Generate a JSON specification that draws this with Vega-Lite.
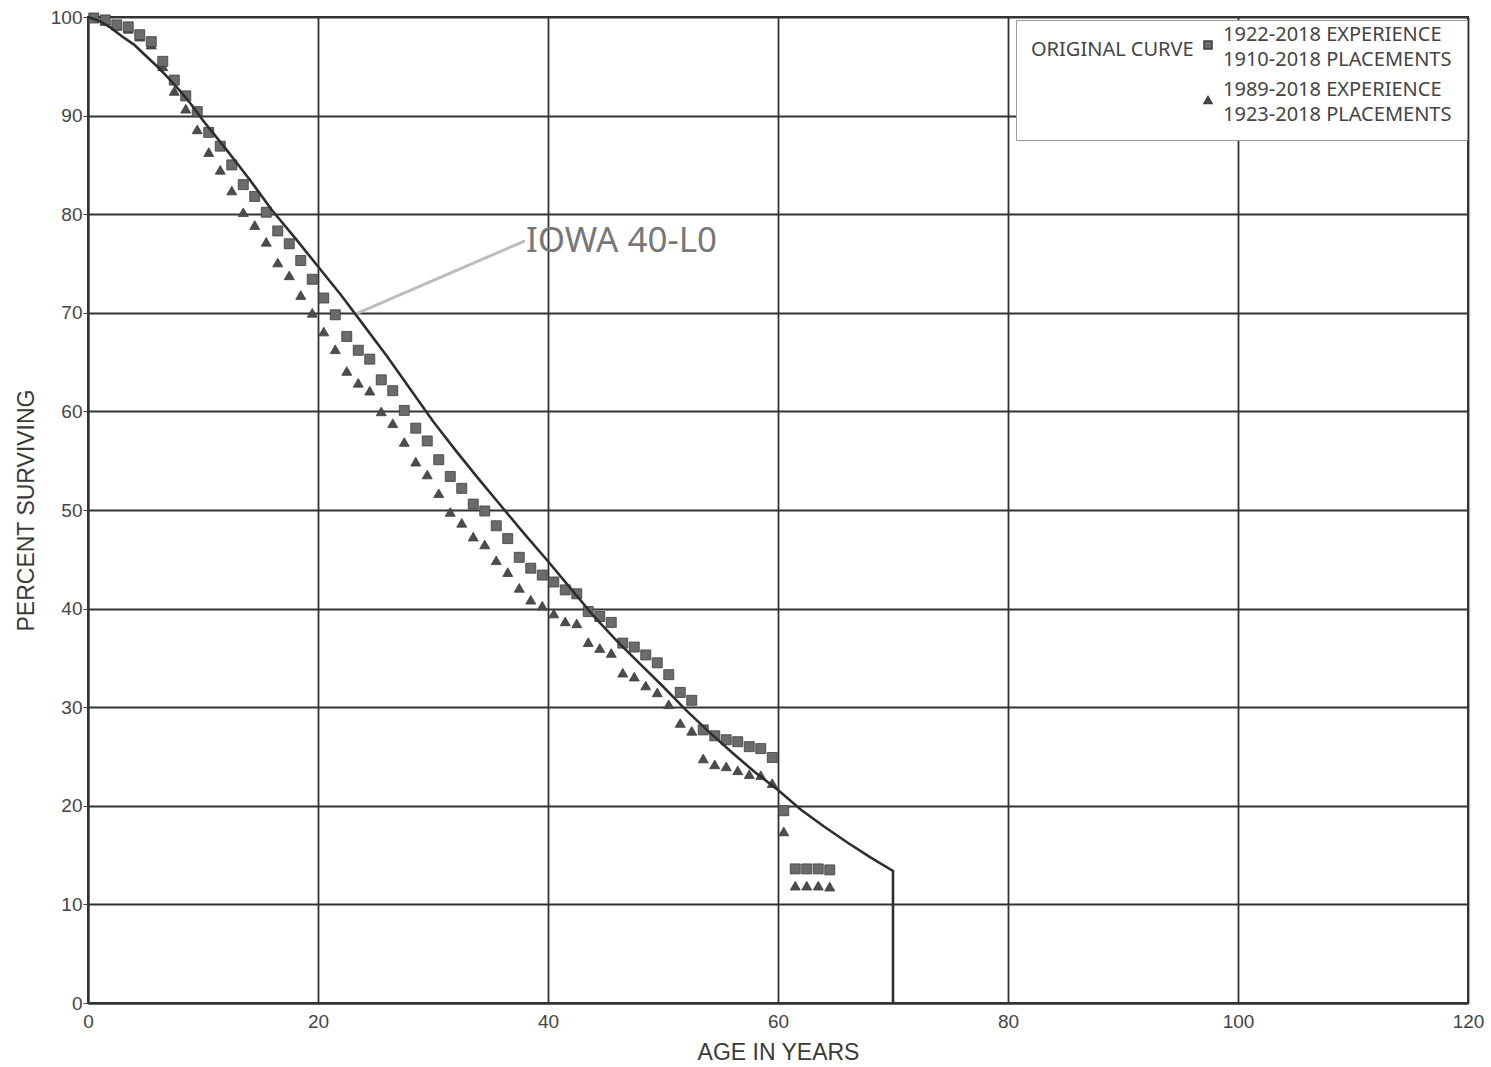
{
  "$schema": "https://vega.github.io/schema/vega-lite/v6.json",
  "width": 1380,
  "height": 986,
  "autosize": "none",
  "padding": {"left": 88, "top": 17, "right": 23, "bottom": 64},
  "background": "white",
  "view": {"stroke": "#333333", "strokeWidth": 2},
  "config": {
    "font": "Liberation Sans",
    "style": {"guide-label": {"lineHeight": 25}},
    "axis": {
      "grid": true,
      "gridColor": "#333333",
      "gridWidth": 1.8,
      "domainColor": "#333333",
      "domainWidth": 2,
      "labelFont": "Liberation Sans",
      "labelFontSize": 19,
      "labelColor": "#444444",
      "labelFlush": false,
      "titleFont": "Liberation Sans",
      "titleFontSize": 23,
      "titleFontWeight": "normal",
      "titleColor": "#3a3a3a"
    },
    "legend": {
      "orient": "none",
      "legendX": 928,
      "legendY": 3,
      "titleOrient": "left",
      "titleAnchor": "start",
      "titleBaseline": "line-top",
      "titleLineHeight": 30,
      "titleFont": "Noto Sans",
      "titleFontSize": 20,
      "titleFontWeight": "normal",
      "titleColor": "#444444",
      "titlePadding": 4,
      "labelFont": "Noto Sans",
      "labelFontSize": 20,
      "labelColor": "#444444",
      "labelBaseline": "bottom",
      "labelLimit": 0,
      "labelOffset": 5,
      "symbolSize": 64,
      "rowPadding": 10,
      "padding": 15,
      "strokeColor": "#9a9a9a",
      "fillColor": "white"
    }
  },
  "datasets": {
    "curve": [
      {"age": 0, "pct": 100}, {"age": 1, "pct": 99.6}, {"age": 2, "pct": 98.9}, {"age": 3, "pct": 98.0},
      {"age": 4, "pct": 97.2}, {"age": 5, "pct": 96.1}, {"age": 6, "pct": 95.0}, {"age": 7, "pct": 93.8},
      {"age": 8, "pct": 92.5}, {"age": 9, "pct": 91.1}, {"age": 10, "pct": 89.5}, {"age": 12, "pct": 86.6},
      {"age": 14, "pct": 83.6}, {"age": 16, "pct": 80.4}, {"age": 18, "pct": 77.6}, {"age": 20, "pct": 74.7},
      {"age": 22, "pct": 71.8}, {"age": 24, "pct": 68.7}, {"age": 26, "pct": 65.6}, {"age": 28, "pct": 62.3},
      {"age": 30, "pct": 59.0}, {"age": 32, "pct": 56.0}, {"age": 34, "pct": 53.1}, {"age": 36, "pct": 50.3},
      {"age": 38, "pct": 47.5}, {"age": 40, "pct": 44.8}, {"age": 42, "pct": 42.0}, {"age": 44, "pct": 39.2},
      {"age": 46, "pct": 36.7}, {"age": 48, "pct": 34.4}, {"age": 50, "pct": 32.1}, {"age": 52, "pct": 29.7},
      {"age": 54, "pct": 27.5}, {"age": 56, "pct": 25.4}, {"age": 58, "pct": 23.4}, {"age": 60, "pct": 21.6},
      {"age": 62, "pct": 19.6}, {"age": 64, "pct": 17.9}, {"age": 66, "pct": 16.3}, {"age": 68, "pct": 14.8},
      {"age": 70, "pct": 13.4}, {"age": 70, "pct": 0}
    ],
    "observed": [
      {"series": "1989-2018 EXPERIENCE 1923-2018 PLACEMENTS", "age": 0.5, "pct": 99.9},
      {"series": "1989-2018 EXPERIENCE 1923-2018 PLACEMENTS", "age": 1.5, "pct": 99.6},
      {"series": "1989-2018 EXPERIENCE 1923-2018 PLACEMENTS", "age": 2.5, "pct": 99.1},
      {"series": "1989-2018 EXPERIENCE 1923-2018 PLACEMENTS", "age": 3.5, "pct": 98.8},
      {"series": "1989-2018 EXPERIENCE 1923-2018 PLACEMENTS", "age": 4.5, "pct": 98.0},
      {"series": "1989-2018 EXPERIENCE 1923-2018 PLACEMENTS", "age": 5.5, "pct": 97.2},
      {"series": "1989-2018 EXPERIENCE 1923-2018 PLACEMENTS", "age": 6.5, "pct": 95.0},
      {"series": "1989-2018 EXPERIENCE 1923-2018 PLACEMENTS", "age": 7.5, "pct": 92.5},
      {"series": "1989-2018 EXPERIENCE 1923-2018 PLACEMENTS", "age": 8.5, "pct": 90.7},
      {"series": "1989-2018 EXPERIENCE 1923-2018 PLACEMENTS", "age": 9.5, "pct": 88.6},
      {"series": "1989-2018 EXPERIENCE 1923-2018 PLACEMENTS", "age": 10.5, "pct": 86.3},
      {"series": "1989-2018 EXPERIENCE 1923-2018 PLACEMENTS", "age": 11.5, "pct": 84.5},
      {"series": "1989-2018 EXPERIENCE 1923-2018 PLACEMENTS", "age": 12.5, "pct": 82.4},
      {"series": "1989-2018 EXPERIENCE 1923-2018 PLACEMENTS", "age": 13.5, "pct": 80.2},
      {"series": "1989-2018 EXPERIENCE 1923-2018 PLACEMENTS", "age": 14.5, "pct": 78.9},
      {"series": "1989-2018 EXPERIENCE 1923-2018 PLACEMENTS", "age": 15.5, "pct": 77.2},
      {"series": "1989-2018 EXPERIENCE 1923-2018 PLACEMENTS", "age": 16.5, "pct": 75.1},
      {"series": "1989-2018 EXPERIENCE 1923-2018 PLACEMENTS", "age": 17.5, "pct": 73.8},
      {"series": "1989-2018 EXPERIENCE 1923-2018 PLACEMENTS", "age": 18.5, "pct": 71.8},
      {"series": "1989-2018 EXPERIENCE 1923-2018 PLACEMENTS", "age": 19.5, "pct": 70.0},
      {"series": "1989-2018 EXPERIENCE 1923-2018 PLACEMENTS", "age": 20.5, "pct": 68.1},
      {"series": "1989-2018 EXPERIENCE 1923-2018 PLACEMENTS", "age": 21.5, "pct": 66.3},
      {"series": "1989-2018 EXPERIENCE 1923-2018 PLACEMENTS", "age": 22.5, "pct": 64.1},
      {"series": "1989-2018 EXPERIENCE 1923-2018 PLACEMENTS", "age": 23.5, "pct": 62.9},
      {"series": "1989-2018 EXPERIENCE 1923-2018 PLACEMENTS", "age": 24.5, "pct": 62.1},
      {"series": "1989-2018 EXPERIENCE 1923-2018 PLACEMENTS", "age": 25.5, "pct": 60.0},
      {"series": "1989-2018 EXPERIENCE 1923-2018 PLACEMENTS", "age": 26.5, "pct": 58.8},
      {"series": "1989-2018 EXPERIENCE 1923-2018 PLACEMENTS", "age": 27.5, "pct": 56.9},
      {"series": "1989-2018 EXPERIENCE 1923-2018 PLACEMENTS", "age": 28.5, "pct": 54.9},
      {"series": "1989-2018 EXPERIENCE 1923-2018 PLACEMENTS", "age": 29.5, "pct": 53.6},
      {"series": "1989-2018 EXPERIENCE 1923-2018 PLACEMENTS", "age": 30.5, "pct": 51.7},
      {"series": "1989-2018 EXPERIENCE 1923-2018 PLACEMENTS", "age": 31.5, "pct": 49.8},
      {"series": "1989-2018 EXPERIENCE 1923-2018 PLACEMENTS", "age": 32.5, "pct": 48.7},
      {"series": "1989-2018 EXPERIENCE 1923-2018 PLACEMENTS", "age": 33.5, "pct": 47.3},
      {"series": "1989-2018 EXPERIENCE 1923-2018 PLACEMENTS", "age": 34.5, "pct": 46.5},
      {"series": "1989-2018 EXPERIENCE 1923-2018 PLACEMENTS", "age": 35.5, "pct": 44.9},
      {"series": "1989-2018 EXPERIENCE 1923-2018 PLACEMENTS", "age": 36.5, "pct": 43.7},
      {"series": "1989-2018 EXPERIENCE 1923-2018 PLACEMENTS", "age": 37.5, "pct": 42.1},
      {"series": "1989-2018 EXPERIENCE 1923-2018 PLACEMENTS", "age": 38.5, "pct": 40.9},
      {"series": "1989-2018 EXPERIENCE 1923-2018 PLACEMENTS", "age": 39.5, "pct": 40.3},
      {"series": "1989-2018 EXPERIENCE 1923-2018 PLACEMENTS", "age": 40.5, "pct": 39.5},
      {"series": "1989-2018 EXPERIENCE 1923-2018 PLACEMENTS", "age": 41.5, "pct": 38.7},
      {"series": "1989-2018 EXPERIENCE 1923-2018 PLACEMENTS", "age": 42.5, "pct": 38.5},
      {"series": "1989-2018 EXPERIENCE 1923-2018 PLACEMENTS", "age": 43.5, "pct": 36.6},
      {"series": "1989-2018 EXPERIENCE 1923-2018 PLACEMENTS", "age": 44.5, "pct": 36.0},
      {"series": "1989-2018 EXPERIENCE 1923-2018 PLACEMENTS", "age": 45.5, "pct": 35.5},
      {"series": "1989-2018 EXPERIENCE 1923-2018 PLACEMENTS", "age": 46.5, "pct": 33.5},
      {"series": "1989-2018 EXPERIENCE 1923-2018 PLACEMENTS", "age": 47.5, "pct": 33.1},
      {"series": "1989-2018 EXPERIENCE 1923-2018 PLACEMENTS", "age": 48.5, "pct": 32.2},
      {"series": "1989-2018 EXPERIENCE 1923-2018 PLACEMENTS", "age": 49.5, "pct": 31.5},
      {"series": "1989-2018 EXPERIENCE 1923-2018 PLACEMENTS", "age": 50.5, "pct": 30.3},
      {"series": "1989-2018 EXPERIENCE 1923-2018 PLACEMENTS", "age": 51.5, "pct": 28.4},
      {"series": "1989-2018 EXPERIENCE 1923-2018 PLACEMENTS", "age": 52.5, "pct": 27.6},
      {"series": "1989-2018 EXPERIENCE 1923-2018 PLACEMENTS", "age": 53.5, "pct": 24.8},
      {"series": "1989-2018 EXPERIENCE 1923-2018 PLACEMENTS", "age": 54.5, "pct": 24.2},
      {"series": "1989-2018 EXPERIENCE 1923-2018 PLACEMENTS", "age": 55.5, "pct": 24.0},
      {"series": "1989-2018 EXPERIENCE 1923-2018 PLACEMENTS", "age": 56.5, "pct": 23.6},
      {"series": "1989-2018 EXPERIENCE 1923-2018 PLACEMENTS", "age": 57.5, "pct": 23.2},
      {"series": "1989-2018 EXPERIENCE 1923-2018 PLACEMENTS", "age": 58.5, "pct": 23.1},
      {"series": "1989-2018 EXPERIENCE 1923-2018 PLACEMENTS", "age": 59.5, "pct": 22.3},
      {"series": "1989-2018 EXPERIENCE 1923-2018 PLACEMENTS", "age": 60.5, "pct": 17.4},
      {"series": "1989-2018 EXPERIENCE 1923-2018 PLACEMENTS", "age": 61.5, "pct": 11.9},
      {"series": "1989-2018 EXPERIENCE 1923-2018 PLACEMENTS", "age": 62.5, "pct": 11.9},
      {"series": "1989-2018 EXPERIENCE 1923-2018 PLACEMENTS", "age": 63.5, "pct": 11.9},
      {"series": "1989-2018 EXPERIENCE 1923-2018 PLACEMENTS", "age": 64.5, "pct": 11.8},
      {"series": "1922-2018 EXPERIENCE 1910-2018 PLACEMENTS", "age": 0.5, "pct": 99.9},
      {"series": "1922-2018 EXPERIENCE 1910-2018 PLACEMENTS", "age": 1.5, "pct": 99.7},
      {"series": "1922-2018 EXPERIENCE 1910-2018 PLACEMENTS", "age": 2.5, "pct": 99.2},
      {"series": "1922-2018 EXPERIENCE 1910-2018 PLACEMENTS", "age": 3.5, "pct": 99.0},
      {"series": "1922-2018 EXPERIENCE 1910-2018 PLACEMENTS", "age": 4.5, "pct": 98.2},
      {"series": "1922-2018 EXPERIENCE 1910-2018 PLACEMENTS", "age": 5.5, "pct": 97.5},
      {"series": "1922-2018 EXPERIENCE 1910-2018 PLACEMENTS", "age": 6.5, "pct": 95.5},
      {"series": "1922-2018 EXPERIENCE 1910-2018 PLACEMENTS", "age": 7.5, "pct": 93.6},
      {"series": "1922-2018 EXPERIENCE 1910-2018 PLACEMENTS", "age": 8.5, "pct": 92.0},
      {"series": "1922-2018 EXPERIENCE 1910-2018 PLACEMENTS", "age": 9.5, "pct": 90.4},
      {"series": "1922-2018 EXPERIENCE 1910-2018 PLACEMENTS", "age": 10.5, "pct": 88.3},
      {"series": "1922-2018 EXPERIENCE 1910-2018 PLACEMENTS", "age": 11.5, "pct": 86.9},
      {"series": "1922-2018 EXPERIENCE 1910-2018 PLACEMENTS", "age": 12.5, "pct": 85.0},
      {"series": "1922-2018 EXPERIENCE 1910-2018 PLACEMENTS", "age": 13.5, "pct": 83.0},
      {"series": "1922-2018 EXPERIENCE 1910-2018 PLACEMENTS", "age": 14.5, "pct": 81.8},
      {"series": "1922-2018 EXPERIENCE 1910-2018 PLACEMENTS", "age": 15.5, "pct": 80.2},
      {"series": "1922-2018 EXPERIENCE 1910-2018 PLACEMENTS", "age": 16.5, "pct": 78.3},
      {"series": "1922-2018 EXPERIENCE 1910-2018 PLACEMENTS", "age": 17.5, "pct": 77.0},
      {"series": "1922-2018 EXPERIENCE 1910-2018 PLACEMENTS", "age": 18.5, "pct": 75.3},
      {"series": "1922-2018 EXPERIENCE 1910-2018 PLACEMENTS", "age": 19.5, "pct": 73.4},
      {"series": "1922-2018 EXPERIENCE 1910-2018 PLACEMENTS", "age": 20.5, "pct": 71.5},
      {"series": "1922-2018 EXPERIENCE 1910-2018 PLACEMENTS", "age": 21.5, "pct": 69.8},
      {"series": "1922-2018 EXPERIENCE 1910-2018 PLACEMENTS", "age": 22.5, "pct": 67.6},
      {"series": "1922-2018 EXPERIENCE 1910-2018 PLACEMENTS", "age": 23.5, "pct": 66.2},
      {"series": "1922-2018 EXPERIENCE 1910-2018 PLACEMENTS", "age": 24.5, "pct": 65.3},
      {"series": "1922-2018 EXPERIENCE 1910-2018 PLACEMENTS", "age": 25.5, "pct": 63.2},
      {"series": "1922-2018 EXPERIENCE 1910-2018 PLACEMENTS", "age": 26.5, "pct": 62.1},
      {"series": "1922-2018 EXPERIENCE 1910-2018 PLACEMENTS", "age": 27.5, "pct": 60.1},
      {"series": "1922-2018 EXPERIENCE 1910-2018 PLACEMENTS", "age": 28.5, "pct": 58.3},
      {"series": "1922-2018 EXPERIENCE 1910-2018 PLACEMENTS", "age": 29.5, "pct": 57.0},
      {"series": "1922-2018 EXPERIENCE 1910-2018 PLACEMENTS", "age": 30.5, "pct": 55.1},
      {"series": "1922-2018 EXPERIENCE 1910-2018 PLACEMENTS", "age": 31.5, "pct": 53.4},
      {"series": "1922-2018 EXPERIENCE 1910-2018 PLACEMENTS", "age": 32.5, "pct": 52.2},
      {"series": "1922-2018 EXPERIENCE 1910-2018 PLACEMENTS", "age": 33.5, "pct": 50.6},
      {"series": "1922-2018 EXPERIENCE 1910-2018 PLACEMENTS", "age": 34.5, "pct": 49.9},
      {"series": "1922-2018 EXPERIENCE 1910-2018 PLACEMENTS", "age": 35.5, "pct": 48.4},
      {"series": "1922-2018 EXPERIENCE 1910-2018 PLACEMENTS", "age": 36.5, "pct": 47.1},
      {"series": "1922-2018 EXPERIENCE 1910-2018 PLACEMENTS", "age": 37.5, "pct": 45.2},
      {"series": "1922-2018 EXPERIENCE 1910-2018 PLACEMENTS", "age": 38.5, "pct": 44.1},
      {"series": "1922-2018 EXPERIENCE 1910-2018 PLACEMENTS", "age": 39.5, "pct": 43.4},
      {"series": "1922-2018 EXPERIENCE 1910-2018 PLACEMENTS", "age": 40.5, "pct": 42.7},
      {"series": "1922-2018 EXPERIENCE 1910-2018 PLACEMENTS", "age": 41.5, "pct": 41.9},
      {"series": "1922-2018 EXPERIENCE 1910-2018 PLACEMENTS", "age": 42.5, "pct": 41.5},
      {"series": "1922-2018 EXPERIENCE 1910-2018 PLACEMENTS", "age": 43.5, "pct": 39.7},
      {"series": "1922-2018 EXPERIENCE 1910-2018 PLACEMENTS", "age": 44.5, "pct": 39.2},
      {"series": "1922-2018 EXPERIENCE 1910-2018 PLACEMENTS", "age": 45.5, "pct": 38.6},
      {"series": "1922-2018 EXPERIENCE 1910-2018 PLACEMENTS", "age": 46.5, "pct": 36.5},
      {"series": "1922-2018 EXPERIENCE 1910-2018 PLACEMENTS", "age": 47.5, "pct": 36.1},
      {"series": "1922-2018 EXPERIENCE 1910-2018 PLACEMENTS", "age": 48.5, "pct": 35.3},
      {"series": "1922-2018 EXPERIENCE 1910-2018 PLACEMENTS", "age": 49.5, "pct": 34.5},
      {"series": "1922-2018 EXPERIENCE 1910-2018 PLACEMENTS", "age": 50.5, "pct": 33.3},
      {"series": "1922-2018 EXPERIENCE 1910-2018 PLACEMENTS", "age": 51.5, "pct": 31.5},
      {"series": "1922-2018 EXPERIENCE 1910-2018 PLACEMENTS", "age": 52.5, "pct": 30.7},
      {"series": "1922-2018 EXPERIENCE 1910-2018 PLACEMENTS", "age": 53.5, "pct": 27.7},
      {"series": "1922-2018 EXPERIENCE 1910-2018 PLACEMENTS", "age": 54.5, "pct": 27.1},
      {"series": "1922-2018 EXPERIENCE 1910-2018 PLACEMENTS", "age": 55.5, "pct": 26.7},
      {"series": "1922-2018 EXPERIENCE 1910-2018 PLACEMENTS", "age": 56.5, "pct": 26.5},
      {"series": "1922-2018 EXPERIENCE 1910-2018 PLACEMENTS", "age": 57.5, "pct": 26.0},
      {"series": "1922-2018 EXPERIENCE 1910-2018 PLACEMENTS", "age": 58.5, "pct": 25.8},
      {"series": "1922-2018 EXPERIENCE 1910-2018 PLACEMENTS", "age": 59.5, "pct": 24.9},
      {"series": "1922-2018 EXPERIENCE 1910-2018 PLACEMENTS", "age": 60.5, "pct": 19.5},
      {"series": "1922-2018 EXPERIENCE 1910-2018 PLACEMENTS", "age": 61.5, "pct": 13.6},
      {"series": "1922-2018 EXPERIENCE 1910-2018 PLACEMENTS", "age": 62.5, "pct": 13.6},
      {"series": "1922-2018 EXPERIENCE 1910-2018 PLACEMENTS", "age": 63.5, "pct": 13.6},
      {"series": "1922-2018 EXPERIENCE 1910-2018 PLACEMENTS", "age": 64.5, "pct": 13.5}
    ],
    "note": [
      {"age": 38, "pct": 77.3, "age0": 23.3, "pct0": 69.9, "label": "IOWA 40-L0"}
    ]
  },
  "encoding": {
    "x": {
      "field": "age",
      "type": "quantitative",
      "scale": {"domain": [0, 120], "nice": false, "zero": false},
      "axis": {
        "values": [0, 20, 40, 60, 80, 100, 120],
        "title": "AGE IN YEARS",
        "tickSize": 0,
        "labelPadding": 9,
        "titleBaseline": "alphabetic",
        "titleY": 56
      }
    },
    "y": {
      "field": "pct",
      "type": "quantitative",
      "scale": {"domain": [0, 100], "nice": false},
      "axis": {
        "values": [0, 10, 20, 30, 40, 50, 60, 70, 80, 90, 100],
        "title": "PERCENT SURVIVING",
        "tickSize": 5,
        "tickColor": "#444444",
        "labelPadding": 1,
        "titleBaseline": "alphabetic",
        "titleX": -55
      }
    }
  },
  "layer": [
    {
      "data": {"name": "note"},
      "mark": {"type": "rule", "color": "#bdbdbd", "strokeWidth": 3},
      "encoding": {
        "x2": {"field": "age0"},
        "y2": {"field": "pct0"}
      }
    },
    {
      "data": {"name": "note"},
      "mark": {"type": "text", "font": "Noto Sans", "fontSize": 35, "color": "#777777", "align": "left", "baseline": "middle", "dx": 1},
      "encoding": {"text": {"field": "label"}}
    },
    {
      "data": {"name": "observed"},
      "mark": {"type": "point", "filled": true, "size": 100, "opacity": 1, "stroke": "#3c3c3c", "strokeWidth": 0.8},
      "encoding": {
        "shape": {
          "field": "series",
          "type": "nominal",
          "scale": {
            "domain": ["1922-2018 EXPERIENCE 1910-2018 PLACEMENTS", "1989-2018 EXPERIENCE 1923-2018 PLACEMENTS"],
            "range": ["square", "triangle-up"]
          },
          "legend": {
            "title": "ORIGINAL CURVE",
            "labelExpr": "[slice(datum.label, 0, 20), slice(datum.label, 21)]"
          }
        },
        "color": {
          "field": "series",
          "type": "nominal",
          "scale": {
            "domain": ["1922-2018 EXPERIENCE 1910-2018 PLACEMENTS", "1989-2018 EXPERIENCE 1923-2018 PLACEMENTS"],
            "range": ["#6b6b6b", "#4c4c4c"]
          },
          "legend": {
            "title": "ORIGINAL CURVE",
            "labelExpr": "[slice(datum.label, 0, 20), slice(datum.label, 21)]"
          }
        }
      }
    },
    {
      "data": {"name": "curve"},
      "mark": {"type": "line", "color": "#2e2e2e", "strokeWidth": 2.6},
      "encoding": {"order": {"value": null}}
    }
  ]
}
